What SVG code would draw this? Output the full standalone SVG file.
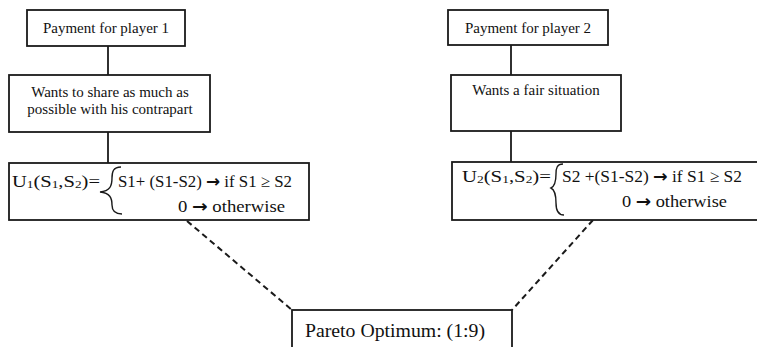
<svg xmlns="http://www.w3.org/2000/svg" width="757" height="347" viewBox="0 0 757 347">
<style>
  .box { fill: #fff; stroke: #1a1a1a; stroke-width: 1.8; }
  .link { stroke: #1a1a1a; stroke-width: 1.8; fill: none; }
  .dash { stroke: #1a1a1a; stroke-width: 2; stroke-dasharray: 6 4; fill: none; }
  .brace { stroke: #1a1a1a; stroke-width: 1.4; fill: none; }
  text { font-family: "Liberation Serif", "Times New Roman", serif; fill: #111; }
  .t15 { font-size: 15px; }
  .t17 { font-size: 17px; }
  .sub { font-size: 11px; }
  .arr { font-family: "DejaVu Sans", sans-serif; font-weight: bold; }
  .t19 { font-size: 19.5px; }
</style>
<rect width="757" height="347" fill="#fff"/>
<g id="connectors">
  <line class="link" x1="108" y1="46" x2="108" y2="75"/>
  <line class="link" x1="108" y1="132" x2="108" y2="163"/>
  <line class="link" x1="511" y1="45" x2="511" y2="75"/>
  <line class="link" x1="511" y1="131" x2="511" y2="162"/>
  <line class="dash" x1="187" y1="221" x2="292" y2="310"/>
  <line class="dash" x1="593" y1="220" x2="512" y2="310"/>
</g>
<g id="payment1">
  <rect class="box" x="27" y="10" width="158" height="36"/>
  <text class="t15" x="106" y="33" text-anchor="middle">Payment for player 1</text>
</g>
<g id="share">
  <rect class="box" x="9" y="75" width="201" height="57"/>
  <text class="t15" x="110" y="97" text-anchor="middle">Wants to share as much as</text>
  <text class="t15" x="110" y="114" text-anchor="middle">possible with his contrapart</text>
</g>
<g id="utility1">
  <rect class="box" x="9" y="163" width="300" height="57"/>
  <text class="t17" x="12" y="187" textLength="88" lengthAdjust="spacingAndGlyphs">U<tspan class="sub" dy="1">1</tspan><tspan dy="-1">(S</tspan><tspan class="sub" dy="1">1</tspan><tspan dy="-1">,S</tspan><tspan class="sub" dy="1">2</tspan><tspan dy="-1">)=</tspan></text>
  <path class="brace" d="M121,167 C113,167 112,172 112,178 C112,186 110,191 100,192 C110,193 112,198 112,205 C112,210 114,214 122,214"/>
  <text class="t17" x="118" y="187" textLength="174" lengthAdjust="spacingAndGlyphs">S1+ (S1-S2) <tspan class="arr">→</tspan> if S1 ≥ S2</text>
  <text class="t17" x="178" y="212" textLength="107" lengthAdjust="spacingAndGlyphs">0 <tspan class="arr">→</tspan> otherwise</text>
</g>
<g id="payment2">
  <rect class="box" x="448" y="10" width="160" height="35"/>
  <text class="t15" x="528" y="33" text-anchor="middle">Payment for player 2</text>
</g>
<g id="fair">
  <rect class="box" x="451" y="75" width="170" height="56"/>
  <text class="t15" x="536" y="95" text-anchor="middle">Wants a fair situation</text>
</g>
<g id="utility2">
  <rect class="box" x="452" y="162" width="310" height="58"/>
  <text class="t17" x="462" y="182" textLength="89" lengthAdjust="spacingAndGlyphs">U<tspan class="sub" dy="1">2</tspan><tspan dy="-1">(S</tspan><tspan class="sub" dy="1">1</tspan><tspan dy="-1">,S</tspan><tspan class="sub" dy="1">2</tspan><tspan dy="-1">)=</tspan></text>
  <path class="brace" d="M563,164 C557,164 556,168 556,174 C556,181 555,186 551,188 C555,190 556,195 556,203 C556,210 558,215 564,215"/>
  <text class="t17" x="562" y="182" textLength="180" lengthAdjust="spacingAndGlyphs">S2 +(S1-S2) <tspan class="arr">→</tspan> if S1 ≥ S2</text>
  <text class="t17" x="622" y="207" textLength="105" lengthAdjust="spacingAndGlyphs">0 <tspan class="arr">→</tspan> otherwise</text>
</g>
<g id="pareto">
  <rect class="box" x="292" y="310" width="220" height="60"/>
  <text class="t19" x="305" y="337" textLength="180" lengthAdjust="spacingAndGlyphs">Pareto Optimum: (1:9)</text>
</g>
</svg>
